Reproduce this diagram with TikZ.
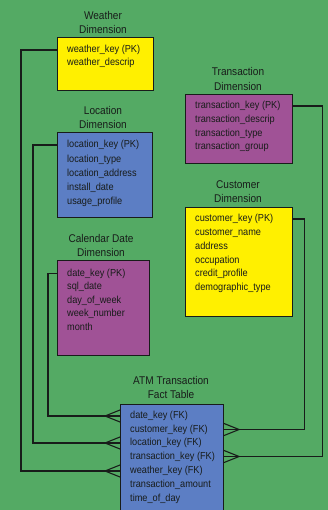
\documentclass[tikz,border=0pt]{standalone}
\usepackage{fontspec}
\setmainfont{Liberation Sans}
\newfontfamily\narrowsans[FakeStretch=0.9]{Liberation Sans}
\definecolor{bggreen}{RGB}{84,170,100}
\definecolor{dimyellow}{RGB}{255,240,0}
\definecolor{dimblue}{RGB}{92,126,196}
\definecolor{dimpurple}{RGB}{160,82,150}
\definecolor{ink}{RGB}{24,28,26}
\begin{document}
\begin{tikzpicture}[x=1pt,y=-1pt,
  tbl/.style={draw=ink, line width=1.1pt, inner sep=0pt, anchor=north west},
  field/.style={anchor=west, inner sep=0pt, text height=7.2pt, text depth=2pt,
                font=\narrowsans\fontsize{10.2}{12}\selectfont, text=ink},
  ttl/.style={align=center, inner sep=0pt, text=ink,
              font=\narrowsans\fontsize{11.2}{14}\selectfont},
  link/.style={draw=ink, line width=1.1pt},
  crowL/.pic={\draw[link] (-15,0) -- (0,-6) (-15,0) -- (0,6);},
  crowR/.pic={\draw[link] (15,0) -- (0,-6) (15,0) -- (0,6);}]

\useasboundingbox (0,0) rectangle (328,510);
\clip (0,0) rectangle (328,510);
\fill[bggreen] (0,0) rectangle (328,510);

% Weather dimension
\node[ttl] (wt) at (103,23) {Weather\\Dimension};
\node[tbl, fill=dimyellow, minimum width=96pt, minimum height=53pt] (wbox) at (57,37) {};
\node[field] (w1) at (67,50) {weather\_key (PK)};
\node[field] (w2) at (67,63) {weather\_descrip};

% Location dimension
\node[ttl] (lt) at (103,117) {Location\\Dimension};
\node[tbl, fill=dimblue, minimum width=95pt, minimum height=85pt] (lbox) at (57,132) {};
\node[field] (l1) at (67,145) {location\_key (PK)};
\node[field] (l2) at (67,159.5) {location\_type};
\node[field] (l3) at (67,174) {location\_address};
\node[field] (l4) at (67,188) {install\_date};
\node[field] (l5) at (67,202) {usage\_profile};

% Calendar date dimension
\node[ttl] (dt) at (101,245) {Calendar Date\\Dimension};
\node[tbl, fill=dimpurple, minimum width=92pt, minimum height=95pt] (dbox) at (57,260) {};
\node[field] (d1) at (67,273.5) {date\_key (PK)};
\node[field] (d2) at (67,287) {sql\_date};
\node[field] (d3) at (67,300.5) {day\_of\_week};
\node[field] (d4) at (67,314) {week\_number};
\node[field] (d5) at (67,328) {month};

% Transaction dimension
\node[ttl] (tt) at (238,79) {Transaction\\Dimension};
\node[tbl, fill=dimpurple, minimum width=107pt, minimum height=69pt] (tbox) at (185,94) {};
\node[field] (t1) at (195,106) {transaction\_key (PK)};
\node[field] (t2) at (195,120) {transaction\_descrip};
\node[field] (t3) at (195,133.5) {transaction\_type};
\node[field] (t4) at (195,147) {transaction\_group};

% Customer dimension
\node[ttl] (ct) at (238,192) {Customer\\Dimension};
\node[tbl, fill=dimyellow, minimum width=107pt, minimum height=109pt] (cbox) at (185,207) {};
\node[field] (c1) at (195,219) {customer\_key (PK)};
\node[field] (c2) at (195,233) {customer\_name};
\node[field] (c3) at (195,247) {address};
\node[field] (c4) at (195,260.5) {occupation};
\node[field] (c5) at (195,274) {credit\_profile};
\node[field] (c6) at (195,288) {demographic\_type};

% Fact table
\node[ttl] (ft) at (171,387) {ATM Transaction\\Fact Table};
\node[tbl, fill=dimblue, minimum width=103pt, minimum height=125pt] (fact) at (120,404) {};
\node[field] (f1) at (130,416) {date\_key (FK)};
\node[field] (f2) at (130,429.5) {customer\_key (FK)};
\node[field] (f3) at (130,443) {location\_key (FK)};
\node[field] (f4) at (130,456.5) {transaction\_key (FK)};
\node[field] (f5) at (130,471) {weather\_key (FK)};
\node[field] (f6) at (130,485) {transaction\_amount};
\node[field] (f7) at (130,498.5) {time\_of\_day};

% Relationships (one dimension row to many fact rows)
\draw[link] (w1 -| wbox.west) -- ++(-36,0) |- (f5 -| fact.west);
\pic at (f5 -| fact.west) {crowL};
\draw[link] (l1 -| lbox.west) -- ++(-24,0) |- (f3 -| fact.west);
\pic at (f3 -| fact.west) {crowL};
\draw[link] (d1 -| dbox.west) -- ++(-9,0) |- (f1 -| fact.west);
\pic at (f1 -| fact.west) {crowL};
\draw[link] (t1 -| tbox.east) -- ++(29,0) |- (f4 -| fact.east);
\pic at (f4 -| fact.east) {crowR};
\draw[link] (c1 -| cbox.east) -- ++(11,0) |- (f2 -| fact.east);
\pic at (f2 -| fact.east) {crowR};
\end{tikzpicture}
\end{document}
